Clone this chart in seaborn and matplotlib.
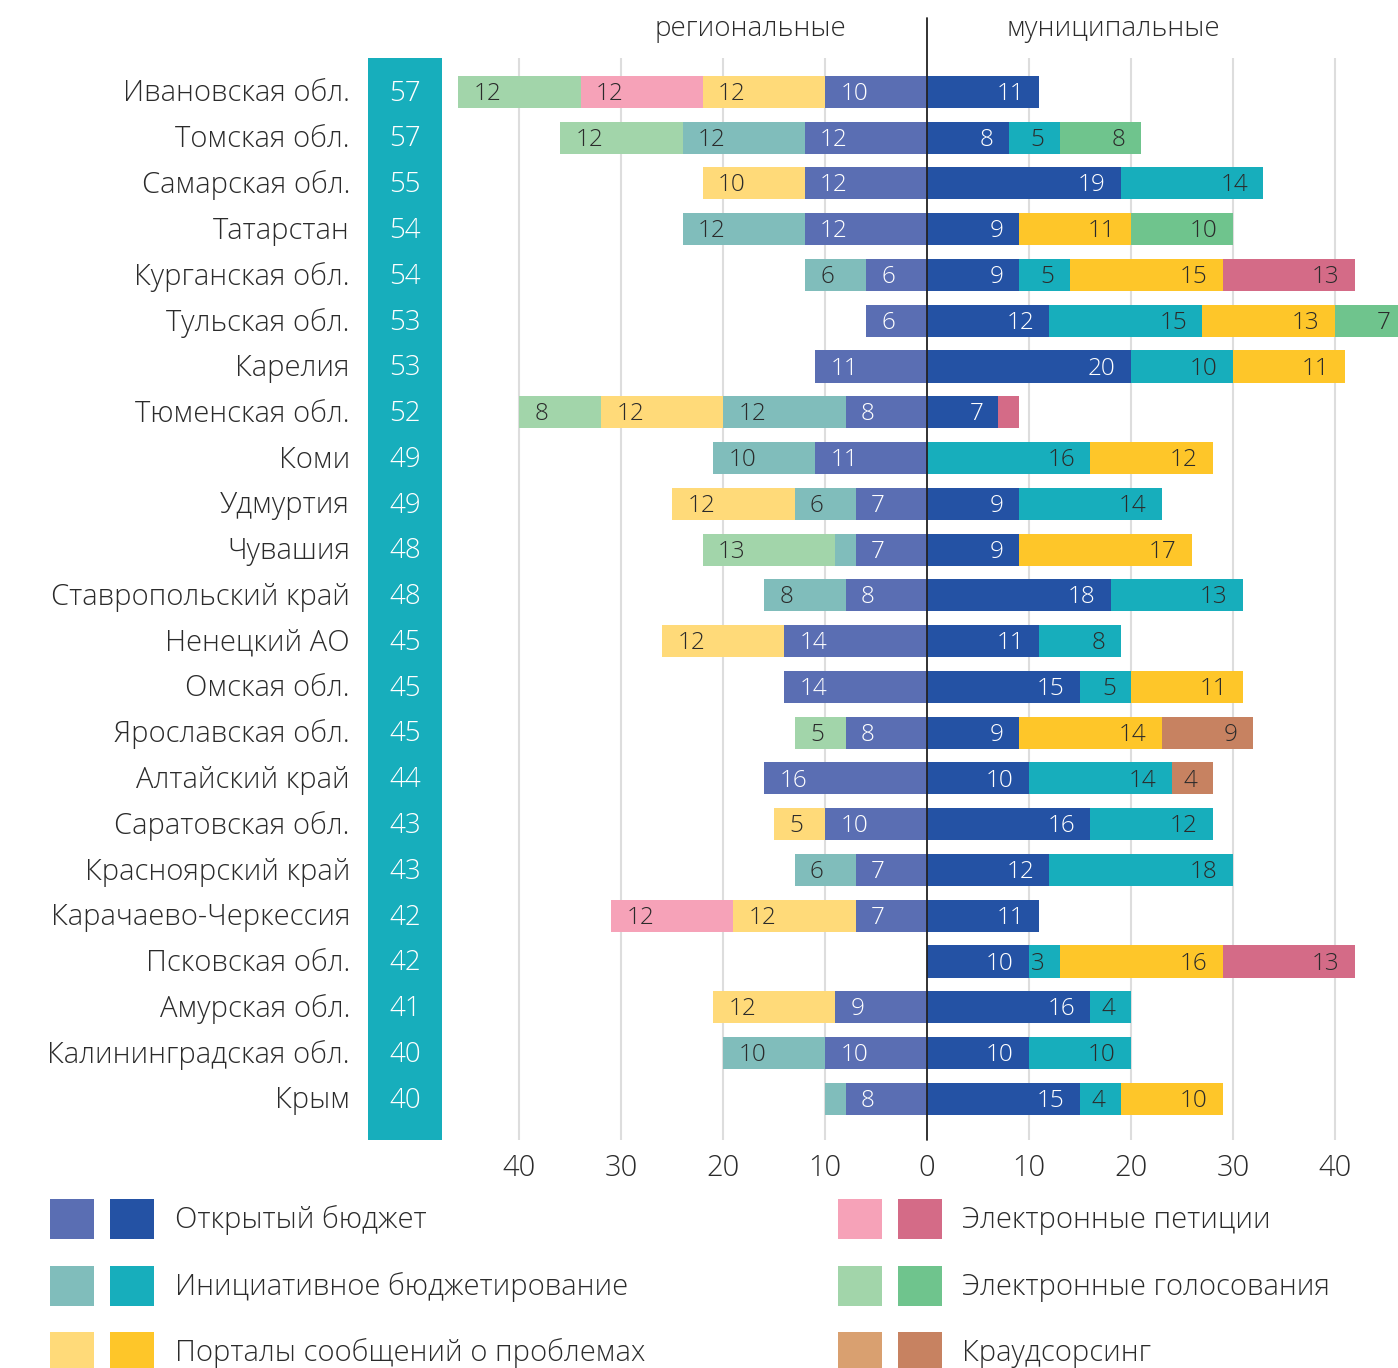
import matplotlib
matplotlib.use("Agg")
import matplotlib.pyplot as plt
import seaborn as sns
from matplotlib import patches, transforms

DPI = 100
W_PX, H_PX = 1398, 1368

regions = [
    "Ивановская обл.", "Томская обл.", "Самарская обл.", "Татарстан",
    "Курганская обл.", "Тульская обл.", "Карелия", "Тюменская обл.",
    "Коми", "Удмуртия", "Чувашия", "Ставропольский край", "Ненецкий АО",
    "Омская обл.", "Ярославская обл.", "Алтайский край", "Саратовская обл.",
    "Красноярский край", "Карачаево-Черкессия", "Псковская обл.",
    "Амурская обл.", "Калининградская обл.", "Крым",
]
totals = [57, 57, 55, 54, 54, 53, 53, 52, 49, 49, 48, 48, 45, 45, 45, 44,
          43, 43, 42, 42, 41, 40, 40]

methods = [
    "Открытый бюджет",
    "Инициативное бюджетирование",
    "Порталы сообщений о проблемах",
    "Электронные петиции",
    "Электронные голосования",
    "Краудсорсинг",
]

# regional level (drawn to the left)
reg_ob = [10, 12, 12, 12, 6, 6, 11, 8, 11, 7, 7, 8, 14, 14, 8, 16, 10, 7, 7, 0, 9, 10, 8]
reg_ib = [0, 12, 0, 12, 6, 0, 0, 12, 10, 6, 2, 8, 0, 0, 0, 0, 0, 6, 0, 0, 0, 10, 2]
reg_portal = [12, 0, 10, 0, 0, 0, 0, 12, 0, 12, 0, 0, 12, 0, 0, 0, 5, 0, 12, 0, 12, 0, 0]
reg_petition = [12, 0, 0, 0, 0, 0, 0, 0, 0, 0, 0, 0, 0, 0, 0, 0, 0, 0, 12, 0, 0, 0, 0]
reg_voting = [12, 12, 0, 0, 0, 0, 0, 8, 0, 0, 13, 0, 0, 0, 5, 0, 0, 0, 0, 0, 0, 0, 0]
reg_crowd = [0] * 23

# municipal level (drawn to the right)
mun_ob = [11, 8, 19, 9, 9, 12, 20, 7, 0, 9, 9, 18, 11, 15, 9, 10, 16, 12, 11, 10, 16, 10, 15]
mun_ib = [0, 5, 14, 0, 5, 15, 10, 0, 16, 14, 0, 13, 8, 5, 0, 14, 12, 18, 0, 3, 4, 10, 4]
mun_portal = [0, 0, 0, 11, 15, 13, 11, 0, 12, 0, 17, 0, 0, 11, 14, 0, 0, 0, 0, 16, 0, 0, 10]
mun_petition = [0, 0, 0, 0, 13, 0, 0, 2, 0, 0, 0, 0, 0, 0, 0, 0, 0, 0, 0, 13, 0, 0, 0]
mun_voting = [0, 8, 0, 10, 0, 7, 0, 0, 0, 0, 0, 0, 0, 0, 0, 0, 0, 0, 0, 0, 0, 0, 0]
mun_crowd = [0, 0, 0, 0, 0, 0, 0, 0, 0, 0, 0, 0, 0, 0, 9, 4, 0, 0, 0, 0, 0, 0, 0]

REG_COLORS = ["#5A6EB3", "#80BDBB", "#FFDA79", "#F6A2B8", "#A2D5AA", "#D9A070"]
MUN_COLORS = ["#2452A4", "#17AEBC", "#FEC629", "#D46B87", "#6FC48D", "#C78261"]
TEAL = "#17AEBC"
TEXT = "#2b2b2b"
FONT = ["Open Sans", "DejaVu Sans"]

sns.set_theme(style="white")
plt.rcParams["font.family"] = FONT
plt.rcParams["font.weight"] = "light"

fig = plt.figure(figsize=(W_PX / DPI, H_PX / DPI), dpi=DPI)


def fx(px):
    return px / W_PX


def fy(py):
    return 1 - py / H_PX


ax = fig.add_axes([fx(443), fy(1140), fx(1398) - fx(443), fy(58) - fy(1140)])

# -------------------------------------------------------------------------
# Stacked bars via cumulative sums, outermost first


def cumulate(series):
    out = []
    run = [0] * len(series[0])
    for s in series:
        run = [a + b for a, b in zip(run, s)]
        out.append(run)
    return out


sides = [
    (-1, [reg_ob, reg_ib, reg_portal, reg_petition, reg_voting, reg_crowd], REG_COLORS),
    (1, [mun_ob, mun_ib, mun_portal, mun_petition, mun_voting, mun_crowd], MUN_COLORS),
]

for sign, series, cols in sides:
    cums = cumulate(series)
    for i in reversed(range(len(series))):
        sns.barplot(
            x=[sign * v for v in cums[i]],
            y=regions,
            order=regions,
            orient="h",
            color=cols[i],
            saturation=1,
            width=0.7,
            linewidth=0,
            errorbar=None,
            ax=ax,
            zorder=2,
        )
    # segment labels
    for i, s in enumerate(series):
        tcolor = "white" if i == 0 else TEXT
        for j, v in enumerate(s):
            if v < 3:
                continue
            ax.annotate(
                str(v),
                xy=(sign * cums[i][j], j),
                xytext=(-sign * 11, -1.5),
                textcoords="offset points",
                ha="left" if sign < 0 else "right",
                va="center",
                fontsize=17.5,
                color=tcolor,
                annotation_clip=False,
                zorder=5,
            )

# -------------------------------------------------------------------------
# Axes styling

ax.set_xlim(-47.5, 46.2)
ax.set_ylim(len(regions) - 0.1, -0.74)
for spine in ax.spines.values():
    spine.set_visible(False)
ax.set_yticks([])
ax.set_ylabel("")
ax.set_xlabel("")
ticks = [-40, -30, -20, -10, 0, 10, 20, 30, 40]
ax.set_xticks(ticks)
ax.set_xticklabels([str(abs(t)) for t in ticks], fontsize=21, color=TEXT)
ax.tick_params(axis="x", length=0, pad=10)
for t in ticks:
    if t != 0:
        ax.axvline(t, color="#dddddd", lw=1.5, zorder=0)
ax.axvline(0, ymin=0, ymax=(1140 - 18) / (1140 - 58), color="#222222", lw=1.3,
           zorder=6, clip_on=False)

# Region names and totals column
lab_tr = transforms.blended_transform_factory(fig.transFigure, ax.transData)
col_tr = transforms.blended_transform_factory(fig.transFigure, ax.transAxes)
ax.add_patch(patches.Rectangle((fx(368), 0), fx(442) - fx(368), 1, transform=col_tr,
                               facecolor=TEAL, edgecolor="none", clip_on=False))
for j, (name, tot) in enumerate(zip(regions, totals)):
    ax.text(fx(350), j + 0.04, name, transform=lab_tr, ha="right", va="center",
            fontsize=21, color=TEXT)
    ax.text(fx(405), j + 0.04, str(tot), transform=lab_tr, ha="center", va="center",
            fontsize=20, color="white")

# Headers
fig.text(fx(750), fy(29), "региональные", ha="center", va="center", fontsize=20, color=TEXT)
fig.text(fx(1113), fy(29), "муниципальные", ha="center", va="center", fontsize=20, color=TEXT)

# -------------------------------------------------------------------------
# Manual legend

legend_pos = [
    (50, 110, 175, 1219), (50, 110, 175, 1286), (50, 110, 175, 1352),
    (838, 898, 962, 1219), (838, 898, 962, 1286), (838, 898, 962, 1352),
]
for k, (xl, xd, xt, yc) in enumerate(legend_pos):
    for x0, c in ((xl, REG_COLORS[k]), (xd, MUN_COLORS[k])):
        fig.patches.append(patches.Rectangle(
            (fx(x0), fy(yc + 20)), fx(44), 40 / H_PX,
            transform=fig.transFigure, facecolor=c, edgecolor="none"))
    fig.text(fx(xt), fy(yc + 1), methods[k], ha="left", va="center", fontsize=21, color=TEXT)

plt.savefig("out.png", dpi=DPI)
